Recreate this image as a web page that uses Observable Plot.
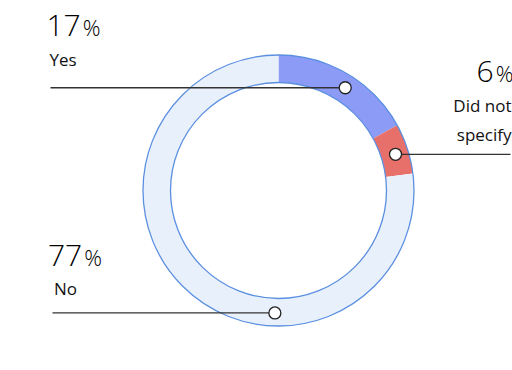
<!DOCTYPE html>
<html>
<head>
<meta charset="utf-8">
<script src="https://cdn.jsdelivr.net/npm/d3@7"></script>
<script src="https://cdn.jsdelivr.net/npm/@observablehq/plot@0.6"></script>
<style>
  html, body { margin: 0; padding: 0; background: #fff; }
  #chart { width: 512px; height: 370px; overflow: hidden; }
</style>
</head>
<body>
<div id="chart"></div>
<script>
// ---- data ----
const categories = ["Yes", "Did not specify", "No"];
const values = [17, 6, 77];
const percentLabels = ["17", "6", "77"];
const nameLines = [["Yes"], ["Did not", "specify"], ["No"]];
const colors = ["#8c9cf6", "#e8706a", "#e8f0fc"];

// ---- layout ----
const W = 512, H = 370;
const cx = 278, cy = 190, rOuter = 135.5, rInner = 108, rDot = 122.5;
const ringStroke = "#5b8fe0";
const anchorAngles = [33, 72.8, 181.7]; // degrees clockwise from top, where leader dots sit
const labelLayout = [
  {side: "left", lineX: 50, numX: 46, numBase: 35.5, nameX: 49, nameBase: 65},
  {side: "right", lineX: 510, numX: 513, numBase: 81.5, nameX: 511, nameBase: 111.5},
  {side: "left", lineX: 52, numX: 47.5, numBase: 265, nameX: 53.5, nameBase: 294}
];
const numFamily = "'Open Sans', Roboto, sans-serif";
const nameFamily = "'Open Sans', Roboto, sans-serif";

const toRad = d => d * Math.PI / 180;
const polar = (r, a) => [cx + r * Math.sin(a), cy - r * Math.cos(a)];

// arc polygons from values
const total = d3.sum(values);
let cum = 0;
const segments = values.map((v, i) => {
  const a0 = cum / total * 2 * Math.PI;
  cum += v;
  const a1 = cum / total * 2 * Math.PI;
  const n = Math.max(8, Math.ceil((a1 - a0) / 0.01));
  const pts = [];
  for (let k = 0; k <= n; k++) { const a = a0 + (a1 - a0) * k / n; const [x, y] = polar(rOuter, a); pts.push({x, y}); }
  for (let k = n; k >= 0; k--) { const a = a0 + (a1 - a0) * k / n; const [x, y] = polar(rInner, a); pts.push({x, y}); }
  return {cat: categories[i], color: colors[i], pts};
});

const anchors = categories.map((c, i) => {
  const [x, y] = polar(rDot, toRad(anchorAngles[i]));
  return {cat: c, x, y, lx: labelLayout[i].lineX};
});

// text measurement for placing the % sign
const ctx = document.createElement("canvas").getContext("2d");
ctx.font = `300 30px ${numFamily}`;
const numW = percentLabels.map(t => ctx.measureText(t).width);
ctx.font = `300 22px ${numFamily}`;
const pctW = ctx.measureText("%").width;

const numTexts = [], pctTexts = [], nameTexts = [];
categories.forEach((c, i) => {
  const L = labelLayout[i];
  if (L.side === "left") {
    numTexts.push({x: L.numX, y: L.numBase, t: percentLabels[i], anchor: "start"});
    pctTexts.push({x: L.numX + numW[i] + 2, y: L.numBase, t: "%", anchor: "start"});
  } else {
    pctTexts.push({x: L.numX, y: L.numBase, t: "%", anchor: "end"});
    numTexts.push({x: L.numX - pctW - 2, y: L.numBase, t: percentLabels[i], anchor: "end"});
  }
  nameLines[i].forEach((ln, j) => nameTexts.push({x: L.nameX, y: L.nameBase + j * 28.5, t: ln, anchor: L.side === "left" ? "start" : "end"}));
});

const marks = [];
segments.forEach(s => {
  marks.push(Plot.line(s.pts, {x: "x", y: "y", fill: s.color, stroke: "none"}));
});
marks.push(Plot.dot([0], {x: () => cx, y: () => cy, r: rOuter, stroke: ringStroke, strokeWidth: 1.3, fill: "none"}));
marks.push(Plot.dot([0], {x: () => cx, y: () => cy, r: rInner, stroke: ringStroke, strokeWidth: 1.3, fill: "none"}));
marks.push(Plot.link(anchors, {x1: "lx", y1: "y", x2: "x", y2: "y", stroke: "#333", strokeWidth: 1.3}));
marks.push(Plot.dot(anchors, {x: "x", y: "y", r: 6, fill: "#fff", stroke: "#222", strokeWidth: 1.3}));
const textStyle = {lineAnchor: "bottom"};
for (const a of ["start", "end"]) {
  marks.push(Plot.text(numTexts.filter(d => d.anchor === a), {x: "x", y: "y", text: "t", textAnchor: a, fontSize: 30, fontWeight: 300, fill: "#000", fontFamily: numFamily, ...textStyle}));
  marks.push(Plot.text(pctTexts.filter(d => d.anchor === a), {x: "x", y: "y", text: "t", textAnchor: a, fontSize: 22, fontWeight: 300, fill: "#000", fontFamily: numFamily, ...textStyle}));
  marks.push(Plot.text(nameTexts.filter(d => d.anchor === a), {x: "x", y: "y", text: "t", textAnchor: a, fontSize: 17, fill: "#111", fontFamily: nameFamily, ...textStyle}));
}

const chart = Plot.plot({
  width: W, height: H,
  margin: 0,
  x: {domain: [0, W], range: [0, W], axis: null},
  y: {domain: [0, H], range: [0, H], axis: null},
  style: {background: "#fff", overflow: "hidden"},
  marks
});
document.getElementById("chart").appendChild(chart);
</script>
</body>
</html>
